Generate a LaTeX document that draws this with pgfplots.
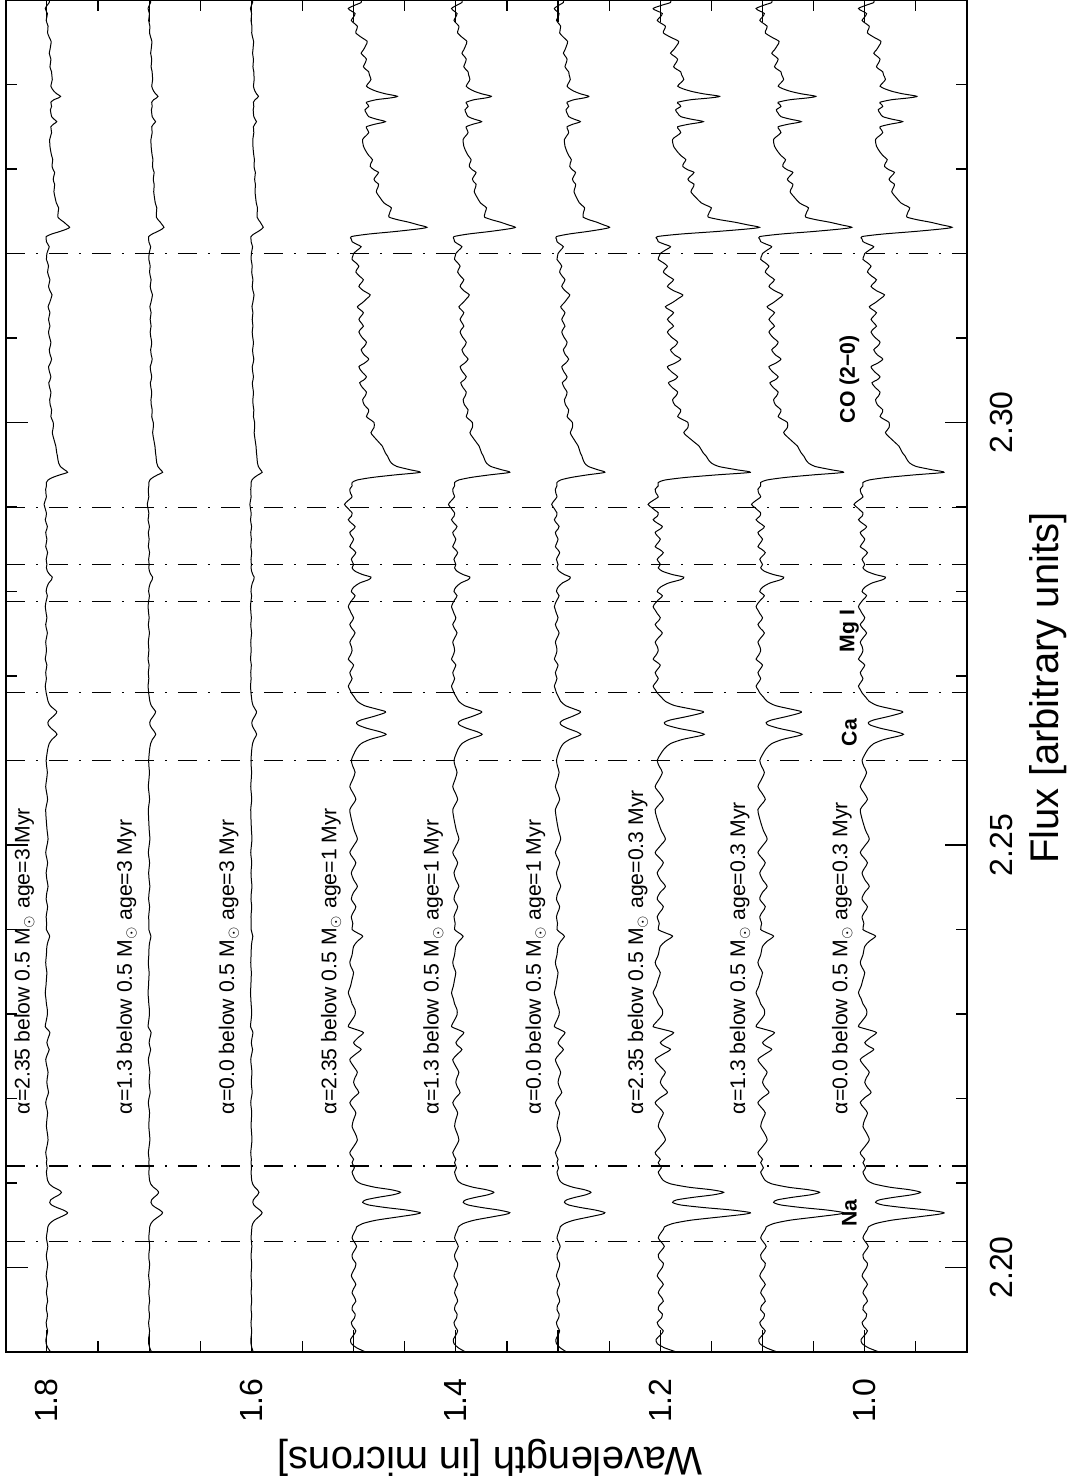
\documentclass[border=0pt]{standalone}
\usepackage{fontspec}
\setmainfont{Liberation Sans}
\usepackage{pgfplots}
\usepackage{pgfplotstable}
\pgfplotsset{compat=1.18}

% depth profile (absorption, in 0.001 flux units) of the alpha=2.35, 0.3 Myr spectrum
\pgfplotstableread{
lam a
2.1900 16
2.1905 4
2.1910 -3
2.1915 -4
2.1920 0
2.1925 3
2.1930 -1
2.1935 -3
2.1940 1
2.1945 2
2.1950 -2
2.1955 -1
2.1960 3
2.1965 1
2.1970 -2
2.1975 0
2.1980 3
2.1985 0
2.1990 -3
2.1995 -1
2.2000 2
2.2005 3
2.2010 -1
2.2015 -2
2.2020 1
2.2025 4
2.2030 1
2.2035 -2
2.2040 0
2.2045 3
2.2048 4
2.2052 12
2.2056 30
2.2060 60
2.2063 82
2.2065 88
2.2068 70
2.2071 42
2.2074 20
2.2077 12
2.2080 16
2.2083 32
2.2086 52
2.2089 62
2.2092 50
2.2095 28
2.2099 10
2.2103 3
2.2108 0
2.2113 -2
2.2118 1
2.2124 -2
2.2128 0
2.2132 -3
2.2136 -5
2.2143 0
2.2151 5
2.2159 2
2.2167 -2
2.2175 0
2.2183 3
2.2189 -1
2.2195 -5
2.2201 0
2.2207 7
2.2213 3
2.2219 0
2.2225 2
2.2231 5
2.2238 0
2.2246 -5
2.2252 2
2.2258 10
2.2262 4
2.2266 0
2.2272 6
2.2278 13
2.2282 2
2.2285 -7
2.2289 -5
2.2293 -2
2.2299 2
2.2305 2
2.2312 -2
2.2318 -4
2.2325 -7
2.2333 -4
2.2341 -2
2.2349 0
2.2355 -3
2.2361 -5
2.2370 -2
2.2380 0
2.2386 5
2.2392 12
2.2396 5
2.2400 -2
2.2407 -1
2.2415 -3
2.2421 0
2.2427 3
2.2436 -3
2.2444 0
2.2451 5
2.2459 0
2.2467 -3
2.2473 0
2.2479 3
2.2485 -1
2.2491 -5
2.2499 0
2.2507 5
2.2517 1
2.2527 -2
2.2535 -4
2.2542 -5
2.2548 -1
2.2554 3
2.2562 -1
2.2569 -5
2.2578 -1
2.2586 2
2.2593 -1
2.2600 -3
2.2607 0
2.2614 4
2.2620 10
2.2625 22
2.2629 38
2.2631 43
2.2634 35
2.2638 18
2.2642 6
2.2645 4
2.2648 10
2.2652 26
2.2656 40
2.2658 42
2.2661 30
2.2665 14
2.2670 5
2.2675 1
2.2680 -3
2.2684 -5
2.2688 -7
2.2693 -4
2.2697 -2
2.2701 -4
2.2704 -5
2.2709 -2
2.2713 0
2.2717 -4
2.2720 -7
2.2725 -4
2.2730 -2
2.2735 -3
2.2740 -5
2.2745 -2
2.2751 2
2.2756 -2
2.2761 -5
2.2765 -2
2.2769 0
2.2774 -3
2.2778 -5
2.2782 -7
2.2786 -5
2.2790 -2
2.2795 2
2.2800 -3
2.2805 0
2.2810 8
2.2814 20
2.2817 23
2.2820 12
2.2824 2
2.2828 -2
2.2832 0
2.2838 -3
2.2842 0
2.2846 3
2.2850 -1
2.2853 -5
2.2858 -2
2.2862 0
2.2866 -3
2.2870 -5
2.2874 0
2.2877 2
2.2881 -3
2.2885 -7
2.2889 -3
2.2893 -2
2.2896 -5
2.2899 -8
2.2903 -12
2.2907 -8
2.2912 -2
2.2916 -4
2.2921 -5
2.2925 -2
2.2929 -2
2.2932 5
2.2935 25
2.2938 55
2.2941 88
2.2944 75
2.2948 57
2.2952 50
2.2956 47
2.2960 45
2.2964 42
2.2968 40
2.2972 38
2.2976 34
2.2980 30
2.2984 26
2.2988 23
2.2994 27
2.3000 27
2.3004 21
2.3007 17
2.3011 19
2.3015 20
2.3021 14
2.3027 12
2.3031 15
2.3036 17
2.3041 12
2.3047 8
2.3050 13
2.3054 17
2.3060 11
2.3066 7
2.3070 14
2.3075 20
2.3080 14
2.3086 10
2.3090 14
2.3095 17
2.3101 11
2.3107 7
2.3111 10
2.3114 13
2.3118 10
2.3122 7
2.3126 10
2.3130 13
2.3134 8
2.3137 5
2.3142 12
2.3147 18
2.3151 22
2.3156 13
2.3161 7
2.3165 10
2.3169 13
2.3173 8
2.3178 3
2.3182 5
2.3185 7
2.3189 3
2.3193 -2
2.3197 -1
2.3200 0
2.3204 5
2.3208 10
2.3211 4
2.3214 -2
2.3217 -3
2.3220 -3
2.3223 20
2.3226 55
2.3229 85
2.3231 97
2.3234 85
2.3237 73
2.3240 58
2.3243 47
2.3246 47
2.3249 48
2.3254 50
2.3257 45
2.3260 40
2.3266 35
2.3273 30
2.3278 32
2.3282 33
2.3285 29
2.3288 27
2.3292 30
2.3296 33
2.3299 27
2.3303 22
2.3307 23
2.3311 25
2.3316 20
2.3320 17
2.3327 13
2.3335 12
2.3339 16
2.3343 20
2.3347 18
2.3350 17
2.3353 28
2.3356 42
2.3359 30
2.3362 20
2.3366 17
2.3370 15
2.3374 20
2.3377 18
2.3379 17
2.3382 30
2.3384 48
2.3386 58
2.3389 42
2.3392 30
2.3395 22
2.3398 17
2.3402 20
2.3406 23
2.3411 21
2.3415 20
2.3418 16
2.3421 13
2.3425 15
2.3430 17
2.3434 13
2.3437 10
2.3441 13
2.3446 16
2.3451 18
2.3456 10
2.3461 3
2.3465 4
2.3469 5
2.3473 0
2.3476 -3
2.3480 0
2.3484 2
2.3487 -3
2.3490 -7
2.3494 2
2.3497 10
2.3500 10
}\spec

\newcommand{\lab}{\fontsize{10.6}{12}\selectfont}
\newcommand{\tlab}{\fontsize{16}{18}\selectfont}
\newcommand{\alab}{\fontsize{20}{22}\selectfont}

\pgfplotsset{
  sp/.style={black, line width=0.5pt, no markers, smooth, tension=0.45},
  dl/.style={black, line width=0.6pt, no markers, dash pattern=on 9.5pt off 5.5pt on 1pt off 5.5pt},
}

\begin{document}
\begin{tikzpicture}
\useasboundingbox (-3pt,-65.5pt) rectangle (530pt,676pt);
\begin{axis}[
  at={(0pt,0pt)}, anchor=south west,
  scale only axis, width=480.5pt, height=676pt,
  xmin=0.9, xmax=1.84, x dir=reverse,
  ymin=2.19, ymax=2.35,
  xtick={1.0,1.1,1.2,1.3,1.4,1.5,1.6,1.7,1.8},
  xticklabels={1.0,,1.2,,1.4,,1.6,,1.8},
  minor xtick={0.95,1.05,1.15,1.25,1.35,1.45,1.55,1.65,1.75},
  ytick={2.20,2.25,2.30},
  yticklabels={2.20,2.25,2.30},
  minor ytick={2.21,2.22,2.23,2.24,2.26,2.27,2.28,2.29,2.31,2.32,2.33,2.34},
  tick align=inside,
  major tick length=11pt, minor tick length=5.5pt,
  every tick/.style={black, line width=0.6pt},
  axis line style={black, line width=0.7pt},
  yticklabel pos=right,
  xticklabel style={rotate=90, anchor=east, inner xsep=13pt, inner ysep=0pt, font=\tlab},
  yticklabel style={rotate=90, anchor=north, inner ysep=11.5pt, inner xsep=0pt, font=\tlab},
]
\addplot[dl] coordinates {(1.84,2.2031) (0.9,2.2031)};
\addplot[dl] coordinates {(1.84,2.2120) (0.9,2.2120)};
\addplot[dl] coordinates {(1.84,2.2600) (0.9,2.2600)};
\addplot[dl] coordinates {(1.84,2.2680) (0.9,2.2680)};
\addplot[dl] coordinates {(1.84,2.2788) (0.9,2.2788)};
\addplot[dl] coordinates {(1.84,2.2832) (0.9,2.2832)};
\addplot[dl] coordinates {(1.84,2.2899) (0.9,2.2899)};
\addplot[dl] coordinates {(1.84,2.3200) (0.9,2.3200)};

\addplot[sp] table[x expr={1.8-0.00023*\thisrow{a}}, y=lam] {\spec};
\addplot[sp] table[x expr={1.7-0.00015*\thisrow{a}}, y=lam] {\spec};
\addplot[sp] table[x expr={1.6-0.00012*\thisrow{a}}, y=lam] {\spec};
\addplot[sp] table[x expr={1.5-0.00074*\thisrow{a}}, y=lam] {\spec};
\addplot[sp] table[x expr={1.4-0.00060*\thisrow{a}}, y=lam] {\spec};
\addplot[sp] table[x expr={1.3-0.00052*\thisrow{a}}, y=lam] {\spec};
\addplot[sp] table[x expr={1.2-0.00100*\thisrow{a}}, y=lam] {\spec};
\addplot[sp] table[x expr={1.1-0.00090*\thisrow{a}}, y=lam] {\spec};
\addplot[sp] table[x expr={1.0-0.00088*\thisrow{a}}, y=lam] {\spec};

\begin{scope}[every node/.style={rotate=90, anchor=west, inner sep=0pt, font=\lab}]
\node at (axis cs:1.822,2.2181) {α=2.35 below 0.5 M$_\odot$ age=3 Myr};
\node at (axis cs:1.722,2.2181) {α=1.3 below 0.5 M$_\odot$ age=3 Myr};
\node at (axis cs:1.622,2.2181) {α=0.0 below 0.5 M$_\odot$ age=3 Myr};
\node at (axis cs:1.522,2.2181) {α=2.35 below 0.5 M$_\odot$ age=1 Myr};
\node at (axis cs:1.422,2.2181) {α=1.3 below 0.5 M$_\odot$ age=1 Myr};
\node at (axis cs:1.322,2.2181) {α=0.0 below 0.5 M$_\odot$ age=1 Myr};
\node at (axis cs:1.222,2.2181) {α=2.35 below 0.5 M$_\odot$ age=0.3 Myr};
\node at (axis cs:1.122,2.2181) {α=1.3 below 0.5 M$_\odot$ age=0.3 Myr};
\node at (axis cs:1.022,2.2181) {α=0.0 below 0.5 M$_\odot$ age=0.3 Myr};
\end{scope}
\begin{scope}[every node/.style={rotate=90, inner sep=0pt, font=\lab\bfseries}]
\node at (axis cs:1.015,2.2064) {Na};
\node at (axis cs:1.015,2.2633) {Ca};
\node at (axis cs:1.015,2.2753) {Mg I};
\node at (axis cs:1.015,2.3051) {CO (2−0)};
\end{scope}
\end{axis}
\node[rotate=90, inner sep=0pt, font=\alab] at (521pt,332pt) {Flux [arbitrary units]};
\node[rotate=180, inner sep=0pt, font=\alab] at (242pt,-53pt) {Wavelength [in microns]};
\end{tikzpicture}
\end{document}
